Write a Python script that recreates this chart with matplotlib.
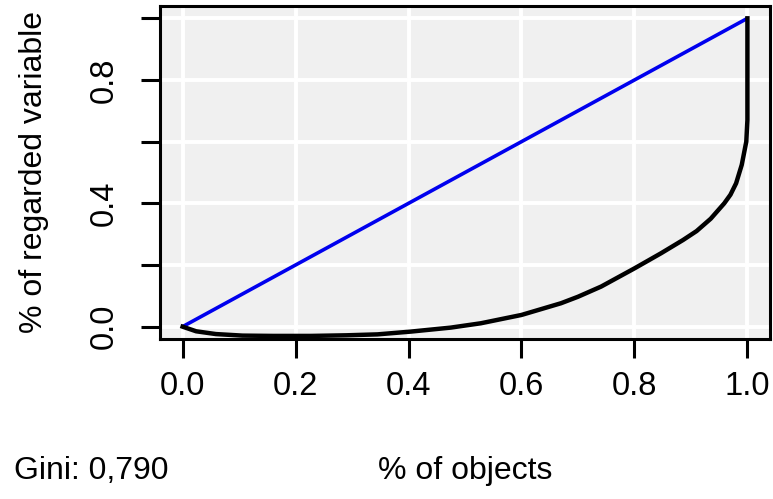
import matplotlib
matplotlib.use("Agg")
import matplotlib.pyplot as plt

plt.rcParams['font.family'] = ['Liberation Sans', 'DejaVu Sans']

# Lorenz curve
lorenz_x = [0, 0.024, 0.059, 0.106, 0.16, 0.227, 0.29, 0.345, 0.404, 0.475, 0.528,
            0.6, 0.67, 0.7, 0.741, 0.8, 0.847, 0.886, 0.91, 0.935, 0.959, 0.97, 0.98,
            0.99, 0.998, 1.0, 1.0]
lorenz_y = [0, -0.015, -0.024, -0.029, -0.030, -0.030, -0.028, -0.025, -0.016, -0.003, 0.011,
            0.038, 0.076, 0.097, 0.13, 0.189, 0.238, 0.281, 0.31, 0.35, 0.4, 0.428, 0.465,
            0.525, 0.6, 0.67, 1.0]
equality = [0, 1]
x_ticks = [0.0, 0.2, 0.4, 0.6, 0.8, 1.0]
x_ticklabels = ["0.0", "0.2", "0.4", "0.6", "0.8", "1.0"]
y_ticks = [0.0, 0.2, 0.4, 0.6, 0.8, 1.0]
y_ticklabels = ["0.0", "", "0.4", "", "0.8", ""]
gini_text = "Gini: 0,790"
xlabel = "% of objects"
ylabel = "% of regarded variable"

W, H = 773, 499
fig = plt.figure(figsize=(W / 100, H / 100), dpi=100)
L, R, T, B = 160, 770, 6, 339
ax = fig.add_axes([L / W, 1 - B / H, (R - L) / W, (B - T) / H])
ax.set_facecolor('#f0f0f0')
ax.set_xlim(-0.04, 1.04)
ax.set_ylim(-0.04, 1.04)

for v in x_ticks:
    ax.axvline(v, color='white', lw=2.8, zorder=1)
for v in y_ticks:
    ax.axhline(v, color='white', lw=2.8, zorder=1)

ax.plot(equality, equality, color='#0000ee', lw=2.6, zorder=3, solid_capstyle='butt')
ax.plot(lorenz_x, lorenz_y, color='black', lw=3.2, zorder=4, solid_joinstyle='round')

for s in ax.spines.values():
    s.set_linewidth(2.2)
    s.set_color('black')

ax.set_xticks(x_ticks)
ax.set_xticklabels(x_ticklabels)
ax.set_yticks(y_ticks)
ax.set_yticklabels(y_ticklabels, rotation=90, va='center')
ax.tick_params(axis='both', direction='out', length=14, width=2.2, labelsize=23.5,
               colors='black')
ax.tick_params(axis='x', pad=9)
ax.tick_params(axis='y', pad=15)

fig.text(465 / W, 1 - 471 / H, xlabel, ha='center', va='center', fontsize=23)
fig.text(34 / W, 1 - 172 / H, ylabel, ha='center', va='center', rotation=90, fontsize=23)
fig.text(14 / W, 1 - 471 / H, gini_text, ha='left', va='center', fontsize=23)

fig.savefig('out.png', dpi=100)
